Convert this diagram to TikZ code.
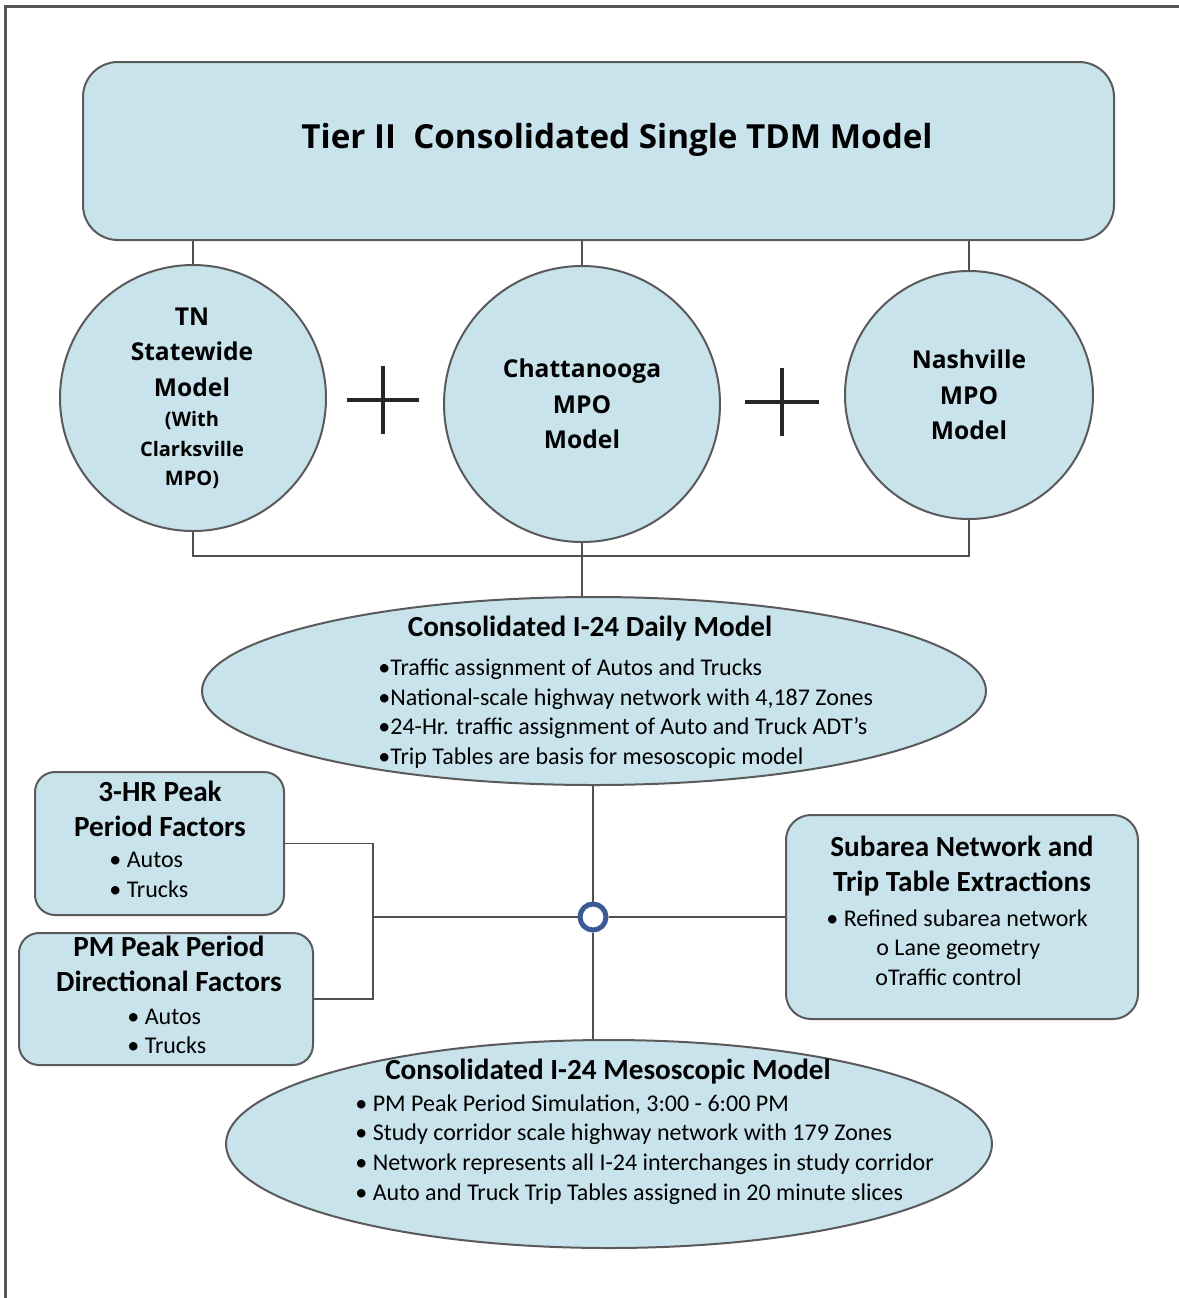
\documentclass[tikz,border=0pt]{standalone}
\usepackage{fontspec}
\setmainfont{Carlito}
\newfontfamily\headfont{Open Sans}
\usetikzlibrary{shapes.geometric}
\usepackage{xcolor}
\definecolor{BoxFill}{HTML}{C9E3EC}
\definecolor{BoxLine}{HTML}{5A5A5A}
\definecolor{LinkLine}{HTML}{505050}
\definecolor{HubBlue}{HTML}{3B5A95}
\definecolor{FrameLine}{HTML}{555555}

\begin{document}
\begin{tikzpicture}[
	x=0.5pt, y=-0.5pt, % pixel-like coordinates, y running downwards
	% Style for the rounded boxes
	model box/.style={
		rectangle,
		rounded corners=#1,
		draw=BoxLine,
		fill=BoxFill,
		line width=1pt,
		inner sep=0pt
	},
	% Style for the three source circles
	model circle/.style={
		circle,
		draw=BoxLine,
		fill=BoxFill,
		line width=1pt,
		inner sep=0pt,
		align=center,
		font=\headfont\bfseries\fontsize{12.3}{17.75}\selectfont
	},
	% Style for text put on a circle
	circle text/.style={
		align=center,
		inner sep=0pt,
		font=\headfont\bfseries\fontsize{12.3}{17.75}\selectfont
	},
	% Style for the two ellipses
	model ellipse/.style={
		ellipse,
		draw=BoxLine,
		fill=BoxFill,
		line width=1pt,
		inner sep=0pt
	},
	% Style for the connecting lines
	link/.style={
		draw=LinkLine,
		line width=0.6pt
	},
	% Style for the text
	heading/.style={
		align=center,
		inner sep=0pt,
		font=\bfseries\fontsize{14.6}{17.5}\selectfont
	},
	bullets/.style={
		align=left,
		inner sep=0pt,
		font=\fontsize{12}{14.85}\selectfont
	}
	]
	
	% frame (only top and left edges show)
	\useasboundingbox (0,0) rectangle (1179,1298);
	\draw[FrameLine, line width=1.5pt] (5,1298) -- (5,6) -- (1179,6);
	
	% 1. Top box
	\node[model box=17.5pt, minimum width=515.5pt, minimum height=89pt] (tier) at (598.5,151) {};
	\node[inner sep=0pt, font=\headfont\bfseries\fontsize{16.6}{20}\selectfont] (tiertext) at (617,140) {Tier II\ \ Consolidated Single TDM Model};
	
	% 2. Source model circles
	\node[model circle, minimum size=133pt] (tn) at (193,398) {};
	\node[circle text] (tntext) at (192,352) {TN\\Statewide\\Model};
	\node[circle text, font=\headfont\bfseries\fontsize{10}{14.75}\selectfont] (tnsub) at (192,450) {(With\\Clarksville\\MPO)};
	\node[model circle, minimum size=138pt] (chat) at (582,404) {Chattanooga\\MPO\\Model};
	\node[model circle, minimum size=124pt] (nash) at (969,395) {Nashville\\MPO\\Model};
	
	% plus signs
	\draw[black!85, line width=2pt] (383,400) +(-36,0) -- +(36,0) +(0,-34) -- +(0,34);
	\draw[black!85, line width=2pt] (782,402) +(-37,0) -- +(37,0) +(0,-34) -- +(0,34);
	
	% lines from the top box
	\draw[link] (tn.north |- tier.south) -- (tn.north);
	\draw[link] (chat.north |- tier.south) -- (chat.north);
	\draw[link] (nash.north |- tier.south) -- (nash.north);
	
	% 3. Daily model
	\node[model ellipse, minimum width=392pt, minimum height=94pt] (daily) at (594,691) {};
	\node[heading] (dailytitle) at (590,629) {Consolidated I-24 Daily Model};
	\node[bullets, anchor=west] (dailylist) at (378,713.5) {%
		•Traffic assignment of Autos and Trucks\\
		•National-scale highway network with 4,187 Zones\\
		•24-Hr. traffic assignment of Auto and Truck ADT’s\\
		•Trip Tables are basis for mesoscopic model};
	
	\coordinate (bar) at (582,556);
	\draw[link] (tn.south) |- (bar) -| (nash.south);
	\draw[link] (chat.south) -- (daily.north -| chat.south);
	
	% 4. Factor boxes
	\node[model box=10pt, minimum width=124.5pt, minimum height=71.5pt] (peak) at (159.5,843.5) {};
	\node[heading] at (160,808.5) {3-HR Peak\\Period Factors};
	\node[bullets, anchor=west] at (109,875) {• Autos\\• Trucks};
	
	\node[model box=10pt, minimum width=147pt, minimum height=66pt] (dir) at (166,999) {};
	\node[heading] at (169,963.5) {PM Peak Period\\Directional Factors};
	\node[bullets, anchor=west] at (127,1031.5) {• Autos\\• Trucks};
	
	% 5. Subarea box
	\node[model box=12.5pt, minimum width=176pt, minimum height=102pt] (sub) at (962,917) {};
	\node[heading] at (962,866) {Subarea Network and\\Trip Table Extractions};
	\node[bullets, anchor=west] at (826,947.5) {• Refined subarea network\\
		\hspace*{25pt}o Lane geometry\\
		\hspace*{24.5pt}oTraffic control};
	
	% 6. Hub and its connectors
	\node[circle, draw=HubBlue, line width=2.5pt, fill=white, minimum size=13pt, inner sep=0pt] (hub) at (593,917) {};
	\coordinate (elbow) at (373,917);
	\draw[link] (peak.east) -| (elbow);
	\draw[link] (dir.east) -| (elbow);
	\draw[link] (elbow) -- (hub.west);
	\draw[link] (hub.east) -- (sub.west);
	\draw[link] (hub.north) -- (hub |- daily.south);
	
	% 7. Mesoscopic model
	\node[model ellipse, minimum width=383pt, minimum height=104pt] (meso) at (609,1144) {};
	\draw[link] (hub.south) -- (hub |- meso.north);
	\node[heading] (mesotitle) at (608,1072) {Consolidated I-24 Mesoscopic Model};
	\node[bullets, anchor=west] (mesolist) at (355,1149.5) {%
		• PM Peak Period Simulation, 3:00 - 6:00 PM\\
		• Study corridor scale highway network with 179 Zones\\
		• Network represents all I-24 interchanges in study corridor\\
		• Auto and Truck Trip Tables assigned in 20 minute slices};
	
\end{tikzpicture}
\end{document}
